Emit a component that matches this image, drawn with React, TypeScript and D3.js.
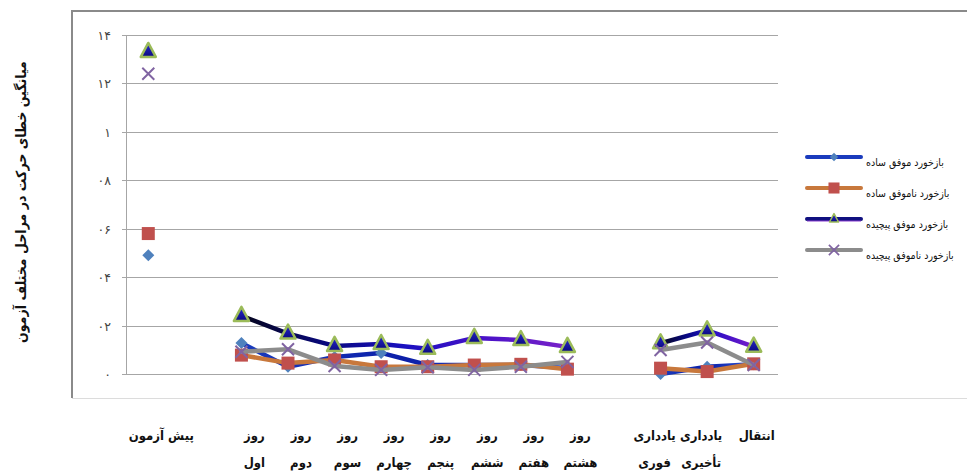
import * as d3 from 'd3';
import { useEffect, useRef } from 'react';

// categories (gaps are empty columns in the original sheet)
const categories = ['pre', 'g1', 'd1', 'd2', 'd3', 'd4', 'd5', 'd6', 'd7', 'd8', 'g2', 'imm', 'del', 'tr'];
const labelTop = ['پیش آزمون', '', 'روز', 'روز', 'روز', 'روز', 'روز', 'روز', 'روز', 'روز', '', 'یادداری', 'یادداری', 'انتقال'];
const labelBottom = ['', '', 'اول', 'دوم', 'سوم', 'چهارم', 'پنجم', 'ششم', 'هفتم', 'هشتم', '', 'فوری', 'تأخیری', ''];

// series values
const simpleSuccess = [0.049, null, 0.0128, 0.003, 0.007, 0.0087, 0.0037, 0.0037, 0.0037, 0.0025, null, 0.0, 0.003, 0.004];
const simpleFail = [0.058, null, 0.0078, 0.0045, 0.0058, 0.003, 0.003, 0.0037, 0.004, 0.002, null, 0.0024, 0.001, 0.0042];
const complexSuccess = [0.133, null, 0.024, 0.0167, 0.0116, 0.0124, 0.0104, 0.0149, 0.014, 0.0112, null, 0.0127, 0.018, 0.0113];
const complexFail = [0.124, null, 0.0092, 0.0102, 0.0033, 0.0017, 0.0028, 0.0017, 0.003, 0.005, null, 0.0099, 0.013, 0.0037];

const seriesNames = ['بازخورد موفق ساده', 'بازخورد ناموفق ساده', 'بازخورد موفق پیچیده', 'بازخورد ناموفق پیچیده'];

const yTicks = [0, 0.02, 0.04, 0.06, 0.08, 0.1, 0.12, 0.14];
const yTickLabels = ['۰', '۰۲', '۰۴', '۰۶', '۰۸', '۱', '۱۲', '۱۴'];

const yTitle = 'میانگین خطای حرکت در مراحل مختلف آزمون';

const FONT = 'DejaVu Sans Condensed, DejaVu Sans, sans-serif';

const ChartDraw = () => {
  const chartRef = useRef<SVGSVGElement | null>(null);

  useEffect(() => {
    const svg = d3.select(chartRef.current);
    svg.selectAll('*').remove();

    const W = 967;
    const H = 472;
    const plotLeft = 127;
    const plotRight = 778;

    const scaleX = d3.scaleBand().domain(categories).range([125, 777]);
    const cx = (i: number) => (scaleX(categories[i]) as number) + scaleX.bandwidth() / 2;
    const scaleY = d3.scaleLinear().domain([0, 0.14]).range([374, 35]);

    svg.append('rect').attr('width', W).attr('height', H).attr('fill', '#fff');

    // gradients
    const defs = svg.append('defs');
    const g3 = defs.append('linearGradient').attr('id', 'gCS').attr('x1', 0).attr('x2', 1).attr('y1', 0).attr('y2', 0);
    [['0', '#05051a'], ['0.25', '#08087a'], ['0.5', '#1a10c0'], ['0.75', '#4a12c8'], ['1', '#7a22c8']].forEach(s =>
      g3.append('stop').attr('offset', s[0]).attr('stop-color', s[1]));
    const g1 = defs.append('linearGradient').attr('id', 'gSS').attr('x1', 0).attr('x2', 1).attr('y1', 0).attr('y2', 0);
    [['0', '#1a3bbd'], ['0.5', '#0c1fa8'], ['1', '#2a55d8']].forEach(s =>
      g1.append('stop').attr('offset', s[0]).attr('stop-color', s[1]));
    const gt = defs.append('linearGradient').attr('id', 'gTri').attr('x1', 0).attr('x2', 0).attr('y1', 0).attr('y2', 1);
    gt.append('stop').attr('offset', 0).attr('stop-color', '#2a2ad0');
    gt.append('stop').attr('offset', 1).attr('stop-color', '#0a0a80');

    // outer frame
    svg.append('line').attr('x1', 72).attr('x2', W).attr('y1', 11).attr('y2', 11).attr('stroke', '#8a8a8a').attr('stroke-width', 2);
    svg.append('line').attr('x1', 72).attr('x2', 72).attr('y1', 10).attr('y2', 398).attr('stroke', '#8a8a8a').attr('stroke-width', 2);
    svg.append('line').attr('x1', 72).attr('x2', W).attr('y1', 398.5).attr('y2', 398.5).attr('stroke', '#dcdcdc').attr('stroke-width', 1);

    // gridlines + y ticks
    yTicks.forEach((t, i) => {
      const y = Math.round(scaleY(t)) + 0.5;
      svg.append('line').attr('x1', 122).attr('x2', plotRight).attr('y1', y).attr('y2', y)
        .attr('stroke', '#a6a6a6').attr('stroke-width', 1);
      svg.append('text').attr('x', 111).attr('y', y + 4).attr('text-anchor', 'end')
        .style('font-family', 'DejaVu Sans, sans-serif').style('font-size', '12.5px').attr('fill', '#444')
        .text(yTickLabels[i]);
    });
    svg.append('line').attr('x1', plotLeft - 0.5).attr('x2', plotLeft - 0.5).attr('y1', scaleY(0.14)).attr('y2', scaleY(0) + 1)
      .attr('stroke', '#a6a6a6').attr('stroke-width', 1);

    // y title
    svg.append('text').attr('transform', 'translate(26,202) rotate(-90)').attr('text-anchor', 'middle')
      .style('font-family', FONT).style('font-size', '14px').style('font-weight', 'bold')
      .attr('fill', '#111').text(yTitle);

    // x labels
    categories.forEach((c, i) => {
      const shift = i < 10 ? 13 : i < 13 ? -6 : 3;
      const x = cx(i) + shift;
      if (labelTop[i]) svg.append('text').attr('x', x).attr('y', 440).attr('text-anchor', 'middle')
        .style('font-family', FONT).style('font-size', '13px').style('font-weight', 'bold')
        .attr('fill', '#111').text(labelTop[i]);
      if (labelBottom[i]) svg.append('text').attr('x', x).attr('y', 467).attr('text-anchor', 'middle')
        .style('font-family', FONT).style('font-size', '13px').style('font-weight', 'bold')
        .attr('fill', '#111').text(labelBottom[i]);
    });

    const line = d3.line<number | null>()
      .defined(d => d != null)
      .x((_, i) => cx(i))
      .y(d => scaleY(d as number));

    const drawMarker = (g: any, kind: number, x: number, y: number) => {
      if (kind === 0) {
        g.append('path').attr('d', `M${x},${y - 6}L${x + 6},${y}L${x},${y + 6}L${x - 6},${y}Z`).attr('fill', '#4f81bd');
      } else if (kind === 1) {
        g.append('rect').attr('x', x - 6.5).attr('y', y - 6.5).attr('width', 13).attr('height', 13).attr('fill', '#c0504d');
      } else if (kind === 2) {
        g.append('path').attr('d', `M${x},${y - 9}L${x + 7.5},${y + 5}L${x - 7.5},${y + 5}Z`)
          .attr('fill', 'url(#gTri)').attr('stroke', '#9bbb59').attr('stroke-width', 2.5).attr('stroke-linejoin', 'round');
      } else {
        g.append('path').attr('d', `M${x - 6},${y - 6}L${x + 6},${y + 6}M${x + 6},${y - 6}L${x - 6},${y + 6}`)
          .attr('stroke', '#8064a2').attr('stroke-width', 2).attr('fill', 'none');
      }
    };

    const seriesData = [simpleSuccess, simpleFail, complexSuccess, complexFail];
    const seriesStroke = ['url(#gSS)', '#c8783c', 'url(#gCS)', '#8c8c8c'];

    seriesData.forEach((vals, k) => {
      const g = svg.append('g');
      // split into contiguous runs so each gets its own gradient
      let run: number[] = [];
      const runs: number[][] = [];
      vals.forEach((v, i) => {
        if (v == null) { if (run.length) runs.push(run); run = []; } else run.push(i);
      });
      if (run.length) runs.push(run);
      runs.filter(r => r.length > 1).forEach(r => {
        const part = vals.map((v, i) => (r.includes(i) ? v : null));
        g.append('path').attr('d', line(part) as string).attr('fill', 'none')
          .attr('stroke', seriesStroke[k]).attr('stroke-width', 4.5)
          .attr('stroke-linejoin', 'round').attr('stroke-linecap', 'round');
      });
      vals.forEach((v, i) => {
        if (v != null) drawMarker(g, k, cx(i), scaleY(v));
      });
    });

    // legend
    const legendLine = ['#1a3bbd', '#c8783c', '#101080', '#8c8c8c'];
    seriesNames.forEach((name, k) => {
      const y = 157 + k * 31;
      const g = svg.append('g');
      g.append('line').attr('x1', 807).attr('x2', 861).attr('y1', y).attr('y2', y)
        .attr('stroke', legendLine[k]).attr('stroke-width', 4).attr('stroke-linecap', 'round');
      if (k === 2) g.append('line').attr('x1', 807).attr('x2', 861).attr('y1', y + 2).attr('y2', y + 2)
        .attr('stroke', '#8a3ad0').attr('stroke-width', 1);
      const sub = k === 0 ? 0.7 : k === 2 ? 0.6 : 0.85;
      drawMarker(g, k, 834, y);
      g.selectAll('*').filter(function (this: any) { return this.tagName !== 'line'; })
        .attr('transform', `translate(${834 * (1 - sub)},${y * (1 - sub)}) scale(${sub})`);
      g.append('text').attr('x', 866).attr('y', y + 9).attr('text-anchor', 'start')
        .style('font-family', FONT).style('font-size', '10.5px').attr('fill', '#111')
        .text(name);
    });
  }, []);

  return <svg ref={chartRef} width={967} height={472} style={{ position: 'absolute', left: 0, top: 0 }}></svg>;
};

export default function App() {
  return <ChartDraw />;
}
